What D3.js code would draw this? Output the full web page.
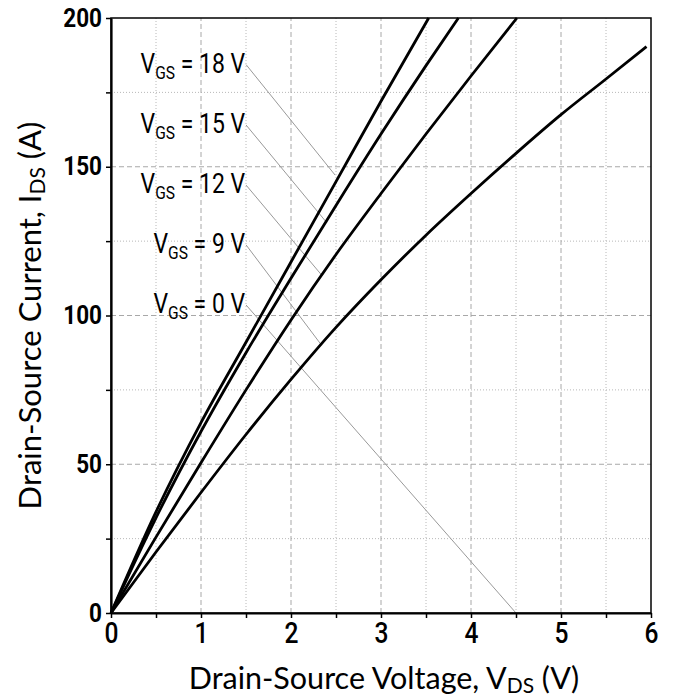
<!DOCTYPE html>
<html>
<head>
<meta charset="utf-8">
<script src="https://cdn.jsdelivr.net/npm/d3@7"></script>
<style>
  body { margin: 0; background: #fff; }
</style>
</head>
<body>
<script>
const xTicks = [0, 1, 2, 3, 4, 5, 6];
const yTicks = [0, 50, 100, 150, 200];

const vgs18 = [[0, 0], [0.5, 34], [1, 64], [1.5, 91], [2, 118], [2.5, 145], [3, 172], [3.53, 200]];
const vgs15 = [[0, 0], [0.5, 32], [1, 61], [1.5, 87.5], [2, 112.5], [2.5, 137], [3, 161], [3.5, 184], [3.86, 200]];
const vgs12 = [[0, 0], [0.5, 25.5], [1, 50.5], [1.5, 75], [2, 98.5], [2.5, 120.5], [3, 141], [3.5, 161], [4, 180.5], [4.51, 200]];
const vgs0 = [[0, 0], [0.5, 20.5], [1, 40.5], [1.5, 60], [2, 78.5], [2.5, 96], [3, 112], [3.5, 127], [4, 141], [4.5, 154.5], [5, 167.5], [5.5, 179.5], [5.95, 190.4]];

// label text, label anchor (V, A), leader end (V, A)
const labelNames = ["18 V", "15 V", "12 V", "9 V", "0 V"];
const labelY = [185, 164.7, 144.5, 124.4, 104.2];
const labelX = 1.49;
const leaderEnd = [[2.49, 147.2], [2.40, 131.1], [2.34, 113.6], [2.34, 90], [4.5, 0]];

const width = 673, height = 700;
const margin = {top: 18, right: 22, bottom: 87, left: 111};
const narrow = 0.82; // the reference uses a condensed face

const svg = d3.select("body").append("svg")
    .attr("width", width)
    .attr("height", height);

const x = d3.scaleLinear().domain([0, 6]).range([margin.left, width - margin.right]);
const y = d3.scaleLinear().domain([0, 200]).range([height - margin.bottom, margin.top]);

const g = svg.append("g");

// minor grid (dotted)
g.selectAll(".vminor").data(d3.range(0.5, 6, 1)).enter().append("line")
    .attr("x1", d => x(d)).attr("x2", d => x(d))
    .attr("y1", y(0)).attr("y2", y(200))
    .attr("stroke", "#b8b8b8").attr("stroke-width", 1).attr("stroke-dasharray", "1,2");
g.selectAll(".hminor").data(d3.range(25, 200, 50)).enter().append("line")
    .attr("x1", x(0)).attr("x2", x(6))
    .attr("y1", d => y(d)).attr("y2", d => y(d))
    .attr("stroke", "#b8b8b8").attr("stroke-width", 1).attr("stroke-dasharray", "1,2");
// major grid (dashed)
g.selectAll(".vmajor").data(xTicks.slice(1, -1)).enter().append("line")
    .attr("x1", d => x(d)).attr("x2", d => x(d))
    .attr("y1", y(0)).attr("y2", y(200))
    .attr("stroke", "#a8a8a8").attr("stroke-width", 1).attr("stroke-dasharray", "5,3");
g.selectAll(".hmajor").data(yTicks.slice(1, -1)).enter().append("line")
    .attr("x1", x(0)).attr("x2", x(6))
    .attr("y1", d => y(d)).attr("y2", d => y(d))
    .attr("stroke", "#a8a8a8").attr("stroke-width", 1).attr("stroke-dasharray", "5,3");

// leader lines
g.selectAll(".leader").data(leaderEnd).enter().append("line")
    .attr("x1", x(labelX) + 1).attr("y1", (d, i) => y(labelY[i]) + 2)
    .attr("x2", d => x(d[0])).attr("y2", d => y(d[1]))
    .attr("stroke", "#999").attr("stroke-width", 1);

// curves
const line = d3.line().x(d => x(d[0])).y(d => y(d[1])).curve(d3.curveMonotoneX);
g.selectAll(".curve").data([vgs18, vgs15, vgs12, vgs0]).enter().append("path")
    .attr("d", line)
    .attr("fill", "none")
    .attr("stroke", "#000")
    .attr("stroke-width", 2.8);

// frame
svg.append("rect")
    .attr("x", x(0)).attr("y", y(200))
    .attr("width", x(6) - x(0)).attr("height", y(0) - y(200))
    .attr("fill", "none").attr("stroke", "#000").attr("stroke-width", 1.5);

// axes
const xAxis = svg.append("g")
    .attr("transform", `translate(0,${y(0)})`)
    .call(d3.axisBottom(x).tickValues(d3.range(0, 6.01, 0.5)).tickSize(5).tickSizeOuter(0)
        .tickFormat(d => Number.isInteger(d) ? d : ""));
xAxis.select(".domain").attr("stroke-width", 2.2);
xAxis.selectAll(".tick line").attr("stroke-width", 1.5);
xAxis.selectAll(".tick text")
    .attr("font-family", "Roboto, sans-serif")
    .attr("font-size", 30).attr("font-weight", 500)
    .attr("y", 8).attr("dy", "0.75em").attr("fill", "#000")
    .attr("transform", `scale(${narrow},1)`);

const yAxis = svg.append("g")
    .attr("transform", `translate(${x(0)},0)`)
    .call(d3.axisLeft(y).tickValues(d3.range(0, 201, 25)).tickSize(5).tickSizeOuter(0)
        .tickFormat(d => d % 50 === 0 ? d : ""));
yAxis.select(".domain").attr("stroke-width", 2.2);
yAxis.selectAll(".tick line").attr("stroke-width", 1.5);
yAxis.selectAll(".tick text")
    .attr("font-family", "Roboto, sans-serif")
    .attr("font-size", 25).attr("font-weight", "bold")
    .attr("x", -9 / 0.9).attr("fill", "#000")
    .attr("transform", "scale(0.9,1)");

// labels
const lab = svg.append("g")
    .attr("font-family", "Roboto, sans-serif")
    .attr("font-size", 28)
    .attr("text-anchor", "end");
labelNames.forEach((name, i) => {
    const t = lab.append("text")
        .attr("transform", `translate(${x(labelX)},${y(labelY[i]) + 10}) scale(${narrow},1)`);
    t.append("tspan").text("V");
    t.append("tspan").attr("font-size", 19).attr("dy", 6).text("GS");
    t.append("tspan").attr("dy", -6).text(" = " + name);
});

// axis titles
const xt = svg.append("text")
    .attr("x", (x(0) + x(6)) / 2 + 3)
    .attr("y", 689)
    .attr("text-anchor", "middle")
    .attr("font-family", "Lato, sans-serif")
    .attr("font-size", 30.5);
xt.append("tspan").text("Drain-Source Voltage, V");
xt.append("tspan").attr("font-size", 21).attr("dy", 4).text("DS");
xt.append("tspan").attr("dy", -4).text(" (V)");

const yt = svg.append("text")
    .attr("transform", `translate(41,${(y(0) + y(200)) / 2}) rotate(-90)`)
    .attr("text-anchor", "middle")
    .attr("font-family", "Lato, sans-serif")
    .attr("font-size", 31);
yt.append("tspan").text("Drain-Source Current, I");
yt.append("tspan").attr("font-size", 21).attr("dy", 4).text("DS");
yt.append("tspan").attr("dy", -4).text(" (A)");
</script>
</body>
</html>
